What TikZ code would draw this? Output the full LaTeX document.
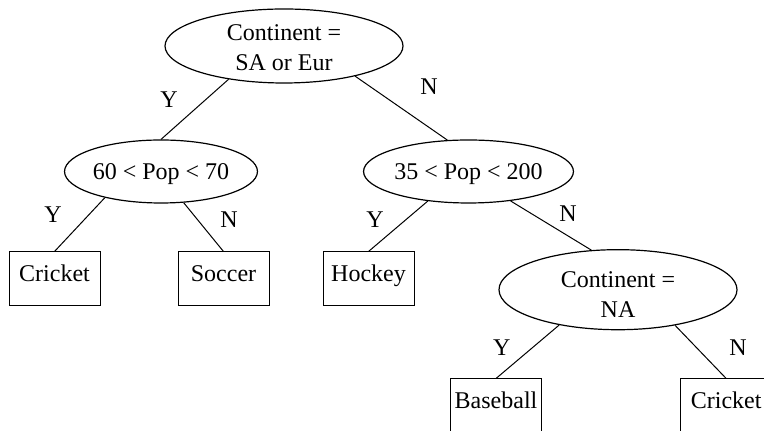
\documentclass[tikz,border=0pt]{standalone}
\usepackage{fontspec}
\setmainfont{Liberation Serif}
\usepackage{tikz}
\usetikzlibrary{shapes.geometric}

\begin{document}
\begin{tikzpicture}[
			x=0.5pt, y=-0.5pt,
			font=\fontsize{12}{15}\selectfont,
			every path/.style={line width=0.5pt},
			test/.style={ellipse, draw, line width=0.6pt, align=center, inner sep=0pt},
			popt/.style={test, minimum width=85pt, minimum height=31.5pt, text height=11pt, text depth=2.6pt},
			leaf/.style={rectangle, draw, minimum width=45.5pt, text height=15pt, text depth=12pt, inner ysep=0pt, inner xsep=0pt},
			lbl/.style={inner sep=0pt}
		]
		\useasboundingbox (0,0) rectangle (764,431);
		% decision nodes
		\node[test, minimum width=119pt, minimum height=37pt, text height=25pt, text depth=0pt] (root) at (284,46) {Continent =\\SA or Eur};
		\node[popt] (pop1) at (161,171.5) {60 < Pop < 70};
		\node[popt, minimum width=85.5pt] (pop2) at (468.5,171.5) {35 < Pop < 200};
		\node[test, minimum width=119pt, minimum height=36.5pt, text height=28.3pt, text depth=0pt] (na) at (618,289.7) {Continent =\\NA};
		% leaves
		\node[leaf] (cricket) at (54.5,279) {Cricket};
		\node[leaf] (soccer) at (223.5,279) {Soccer};
		\node[leaf] (hockey) at (368.5,279) {Hockey};
		\node[leaf] (baseball) at (496,406) {Baseball};
		\node[leaf] (cricket2) at (726.2,406) {Cricket};
		
		\draw (root.211) -- (pop1.north);
		\draw (root.337) -- (pop2.124);
		\draw (pop1.205) -- (cricket.north);
		\draw (pop1.306) -- (soccer.north);
		\draw (pop2.216) -- (hockey.north);
		\draw (pop2.325) -- (na.124);
		\draw (na.211) -- (baseball.north);
		\draw (na.328) -- (cricket2.north);
		
		% branch labels
		\node[lbl] (yroot) at (169,100) {Y};
		\node[lbl] (nroot) at (429,87) {N};
		\node[lbl] (ypop1) at (53,215) {Y};
		\node[lbl] (npop1) at (229,220) {N};
		\node[lbl] (ypop2) at (375,220) {Y};
		\node[lbl] (npop2) at (568,214) {N};
		\node[lbl] (yna) at (501.7,348) {Y};
		\node[lbl] (nna) at (738,348) {N};
		\end{tikzpicture}
\end{document}
